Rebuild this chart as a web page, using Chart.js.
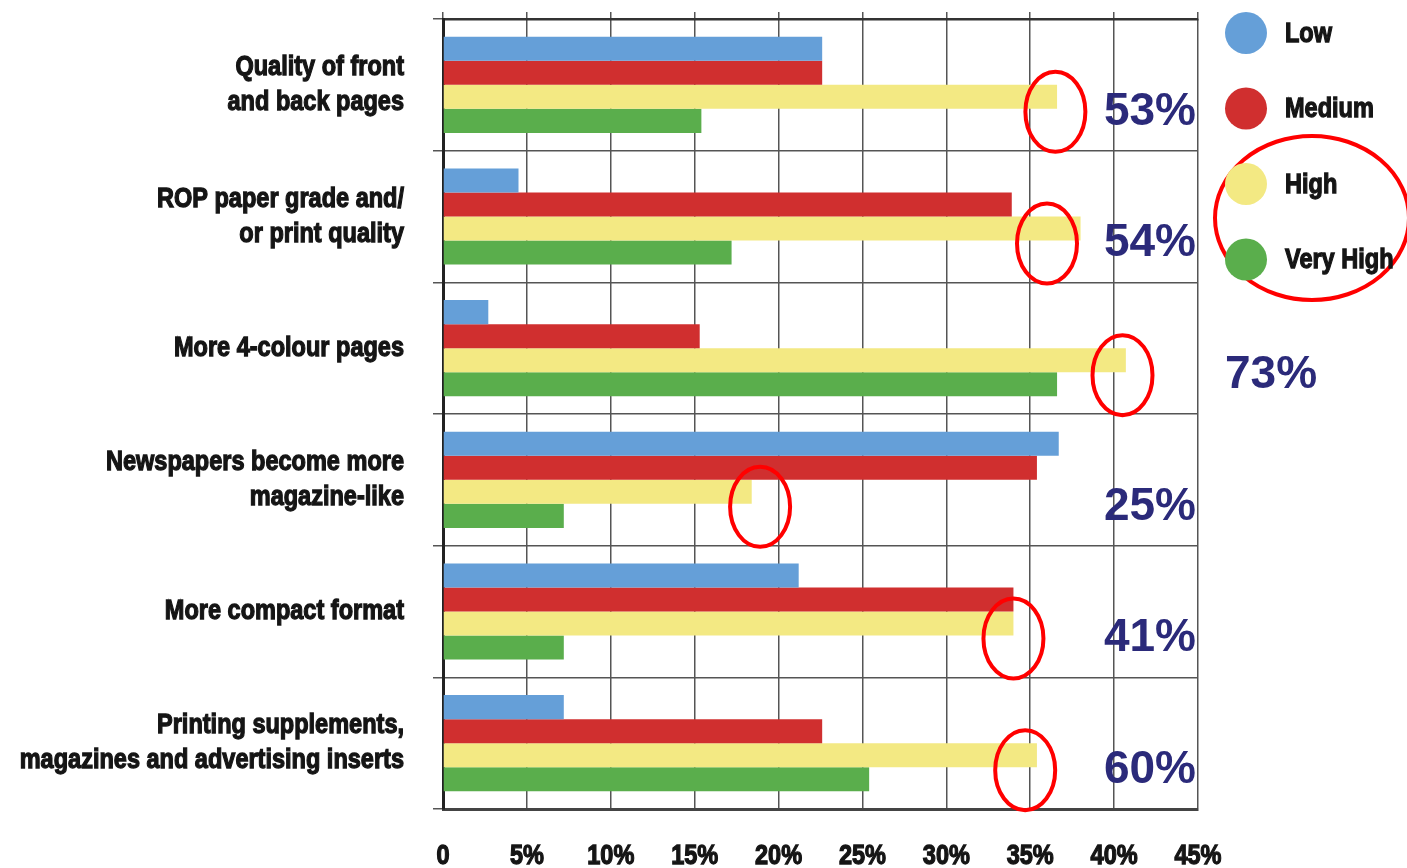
<!DOCTYPE html>
<html>
<head>
<meta charset="utf-8">
<script src="https://cdn.jsdelivr.net/npm/chart.js@4"></script>
<style>
    html, body { margin: 0; padding: 0; background: #fff; }
    #wrap { width: 1407px; height: 868px; position: relative; }
</style>
</head>
<body>
<div id="wrap"><canvas id="impactChart"></canvas></div>
<script>
// Data
const categories = [
    ["Quality of front", "and back pages"],
    ["ROP paper grade and/", "or print quality"],
    "More 4-colour pages",
    ["Newspapers become more", "magazine-like"],
    "More compact format",
    ["Printing supplements,", "magazines and advertising inserts"],
];
const seriesNames = ["Low", "Medium", "High", "Very High"];
const lowValues = [22.6, 4.5, 2.7, 36.7, 21.2, 7.2];
const mediumValues = [22.6, 33.9, 15.3, 35.4, 34.0, 22.6];
const highValues = [36.6, 38.0, 40.7, 18.4, 34.0, 35.4];
const veryHighValues = [15.4, 17.2, 36.6, 7.2, 7.2, 25.4];
const highlightLabels = ["53%", "54%", "73%", "25%", "41%", "60%"];
// where the red circles were drawn (in % on the x axis)
const circledAt = [36.5, 36.0, 40.5, 18.9, 34.0, 34.7];
const xTicks = [0, 5, 10, 15, 20, 25, 30, 35, 40, 45];

const colors = ["#659fd8", "#d02f2f", "#f3e983", "#5aae4c"];
const labelFont = "bold 28px 'Liberation Sans', Arial, sans-serif";
const squeeze = 0.84; // narrow look of the printed labels

// draw text squeezed horizontally, a bit heavier
function narrowText(ctx, txt, x, y, align) {
    ctx.save();
    ctx.translate(x, y);
    ctx.scale(squeeze, 1);
    ctx.textAlign = align;
    ctx.fillText(txt, 0, 0);
    ctx.lineWidth = 1.3;
    ctx.strokeStyle = ctx.fillStyle;
    ctx.strokeText(txt, 0, 0);
    ctx.restore();
}

// Category names, axis numbers, legend
const labelsPlugin = {
    id: "narrowLabels",
    afterDraw(chart) {
        const ctx = chart.ctx;
        const area = chart.chartArea;
        const xs = chart.scales.x;
        const ys = chart.scales.y;
        ctx.save();
        ctx.font = labelFont;
        ctx.fillStyle = "#151515";
        ctx.textBaseline = "middle";

        chart.data.labels.forEach((lbl, i) => {
            const lines = Array.isArray(lbl) ? lbl : [lbl];
            const cy = ys.getPixelForValue(i);
            lines.forEach((line, j) => {
                const ly = cy + (j - (lines.length - 1) / 2) * 35;
                narrowText(ctx, line, area.left - 39, ly, "right");
            });
        });

        xTicks.forEach((v) => {
            const txt = v === 0 ? "0" : v + "%";
            narrowText(ctx, txt, xs.getPixelForValue(v), area.bottom + 47, "center");
        });

        chart.data.datasets.forEach((ds, i) => {
            const cy = area.top + 14 + i * 75.5;
            ctx.beginPath();
            ctx.arc(area.right + 48, cy, 21, 0, Math.PI * 2);
            ctx.fillStyle = ds.backgroundColor;
            ctx.fill();
            ctx.fillStyle = "#151515";
            narrowText(ctx, ds.label, area.right + 87, cy + 1, "left");
        });
        ctx.restore();
    },
};

// Red circles and the big blue percentages
const highlightPlugin = {
    id: "highlights",
    afterDatasetsDraw(chart) {
        const ctx = chart.ctx;
        const area = chart.chartArea;
        const xs = chart.scales.x;
        const ys = chart.scales.y;
        const highMeta = chart.getDatasetMeta(2);
        ctx.save();
        ctx.strokeStyle = "#ff0000";
        ctx.lineWidth = 4;
        highlightLabels.forEach((txt, i) => {
            const cx = xs.getPixelForValue(circledAt[i]);
            const cy = ys.getPixelForValue(i) + 27;
            ctx.beginPath();
            ctx.ellipse(cx, cy, 30, 40, 0, 0, Math.PI * 2);
            ctx.stroke();

            const bar = highMeta.data[i];
            ctx.font = "bold 46px 'Liberation Sans', Arial, sans-serif";
            ctx.fillStyle = "#2b2a7a";
            ctx.textBaseline = "middle";
            const w = ctx.measureText(txt).width;
            if (cx + 30 + 15 > area.right - w) {
                ctx.textAlign = "left";
                ctx.fillText(txt, area.right + 27, bar.y + 15);
            } else {
                ctx.textAlign = "right";
                ctx.fillText(txt, area.right - 2, bar.y + 15);
            }
        });
        // circle round High / Very High in the legend
        ctx.beginPath();
        ctx.ellipse(area.right + 114, area.top + 199, 97, 82, 0, 0, Math.PI * 2);
        ctx.stroke();
        ctx.restore();
    },
};

document.addEventListener("DOMContentLoaded", function () {
    const el = document.getElementById("impactChart");
    const allValues = [lowValues, mediumValues, highValues, veryHighValues];

    new Chart(el.getContext("2d"), {
        type: "bar",
        data: {
            labels: categories,
            datasets: seriesNames.map((name, i) => ({
                label: name,
                data: allValues[i],
                backgroundColor: colors[i],
                borderWidth: 0,
                barPercentage: 1,
                categoryPercentage: 0.73,
            })),
        },
        options: {
            indexAxis: "y",
            responsive: true,
            maintainAspectRatio: false,
            animation: false,
            events: [],
            layout: { padding: { top: 12, right: 209, left: 0, bottom: 0 } },
            plugins: {
                legend: { display: false },
                tooltip: { enabled: false },
            },
            scales: {
                x: {
                    min: 0,
                    max: 45,
                    afterBuildTicks: (scale) => {
                        scale.ticks = xTicks.map((v) => ({ value: v }));
                    },
                    afterFit: (scale) => {
                        scale.height = 59;
                    },
                    grid: { color: "#555", lineWidth: 1.5, drawTicks: false },
                    border: { color: "#444", width: 3 },
                    ticks: { display: false },
                },
                // only the short tick stubs above the top edge
                xTop: {
                    position: "top",
                    axis: "x",
                    min: 0,
                    max: 45,
                    afterBuildTicks: (scale) => {
                        scale.ticks = xTicks.map((v) => ({ value: v }));
                    },
                    afterFit: (scale) => {
                        scale.height = 7;
                    },
                    grid: { color: "#555", lineWidth: 1.5, drawOnChartArea: false, tickLength: 7 },
                    border: { color: "#333", width: 2.5 },
                    ticks: { display: false },
                },
                y: {
                    afterFit: (scale) => {
                        scale.width = 443;
                    },
                    grid: { color: "#555", lineWidth: 1.5, tickLength: 10, offset: true },
                    border: { color: "#222", width: 3 },
                    ticks: { display: false },
                },
            },
        },
        plugins: [highlightPlugin, labelsPlugin],
    });
});
</script>
</body>
</html>
